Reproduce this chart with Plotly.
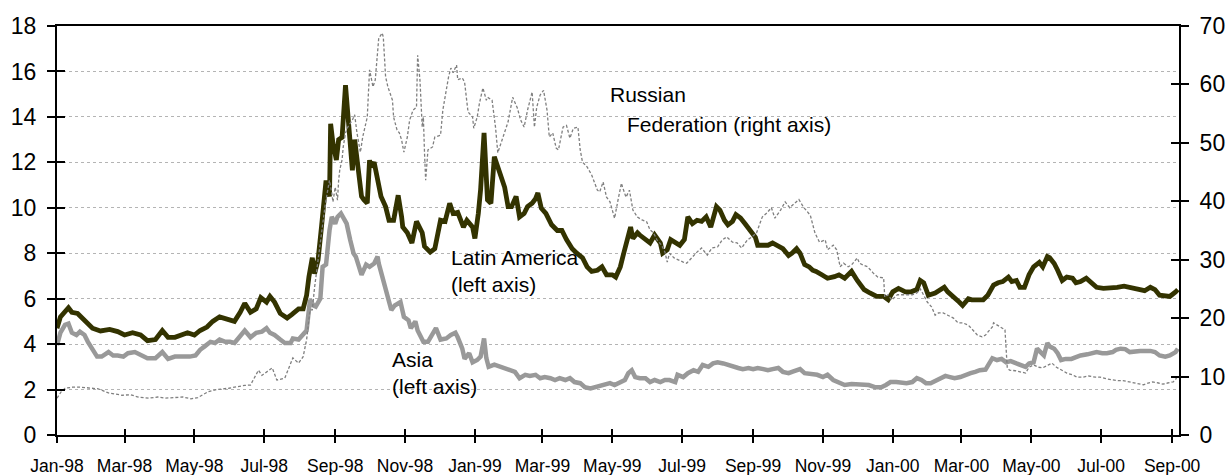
import pandas as pd
import plotly.graph_objects as go

start = pd.Timestamp("1998-01-01")

# Days since 1 Jan 1998 and spread values (Latin America, left axis)
latam_days = [0, 3, 10, 13, 18, 24, 31, 38, 46, 53, 59, 66, 73, 79, 86, 92, 97, 103, 109, 114,
              120, 125, 131, 136, 142, 149, 155, 160, 164, 169, 174, 178, 183, 186, 190, 195, 201, 205, 211, 215,
              218, 220, 223, 225, 228, 231, 233, 235, 238, 239, 241, 244, 246, 249, 252, 253, 256, 258, 260, 263,
              266, 268, 271, 273, 274, 277, 280, 283, 287, 290, 294, 298, 301, 302, 306, 310, 314, 319, 321, 326,
              330, 335, 339, 343, 346, 350, 355, 358, 363, 365, 368, 370, 373, 375, 376, 379, 382, 384, 389, 391,
              394, 397, 401, 404, 408, 411, 415, 418, 420, 423, 427, 432, 437, 441, 445, 450, 454, 459, 463, 467,
              472, 476, 480, 485, 488, 492, 495, 498, 501, 503, 507, 509, 514, 518, 522, 527, 529, 533, 536, 540,
              544, 548, 551, 555, 559, 563, 567, 571, 576, 579, 583, 586, 590, 593, 597, 601, 605, 610, 612, 617,
              621, 625, 630, 634, 639, 642, 646, 649, 653, 657, 660, 663, 668, 673, 679, 683, 688, 694, 699, 705,
              710, 716, 722, 726, 730, 735, 741, 746, 751, 754, 757, 761, 767, 772, 775, 778, 783, 788, 791, 796,
              799, 804, 809, 813, 818, 822, 826, 831, 834, 838, 841, 845, 849, 853, 858, 861, 865, 867, 871, 874,
              878, 882, 887, 890, 894, 899, 903, 908, 914, 920, 926, 932, 938, 944, 950, 955, 959, 963, 968, 972,
              977, 979]
latam_vals = [4.7, 5.2, 5.6, 5.4, 5.35, 5.05, 4.7, 4.58, 4.65, 4.55, 4.4, 4.5, 4.4, 4.15, 4.2, 4.6, 4.3, 4.3, 4.4, 4.5,
              4.4, 4.6, 4.75, 5.0, 5.2, 5.1, 5.0, 5.4, 5.8, 5.4, 5.55, 6.05, 5.85, 6.1, 5.85, 5.35, 5.15, 5.3, 5.55, 5.55,
              6.15, 6.95, 7.8, 7.1, 7.7, 9.15, 10.5, 11.2, 10.5, 13.7, 12.85, 12.1, 13.0, 13.1, 15.4, 14.75, 12.85, 11.65, 13.0, 11.5,
              10.5, 10.35, 10.2, 12.1, 11.8, 12.0, 11.3, 10.5, 10.05, 9.45, 9.45, 10.55, 9.6, 9.15, 8.9, 8.45, 9.4, 8.9, 8.3, 8.05,
              8.2, 9.45, 9.4, 10.2, 9.75, 9.8, 9.15, 9.45, 9.15, 8.65, 9.75, 10.8, 13.3, 11.5, 10.35, 10.2, 12.25, 11.95, 11.2, 10.9,
              10.05, 10.05, 10.5, 9.6, 9.75, 10.05, 10.2, 10.4, 10.65, 9.98, 9.75, 9.25, 9.0, 9.0, 8.6, 8.2, 8.0, 7.8, 7.4, 7.2,
              7.25, 7.4, 7.05, 7.05, 6.95, 7.4, 8.0, 8.6, 9.15, 8.65, 8.9, 8.8, 8.6, 8.45, 8.8, 8.45, 8.0, 8.15, 8.6, 8.45,
              8.35, 8.6, 9.6, 9.3, 9.45, 9.4, 9.6, 9.15, 10.05, 9.9, 9.45, 9.25, 9.4, 9.7, 9.55, 9.3, 9.0, 8.7, 8.35, 8.35,
              8.35, 8.45, 8.3, 8.2, 7.9, 8.0, 8.2, 8.0, 7.5, 7.4, 7.25, 7.2, 7.05, 6.9, 6.97, 7.05, 6.9, 7.2, 6.8, 6.4,
              6.25, 6.1, 6.1, 5.95, 6.3, 6.45, 6.3, 6.3, 6.4, 6.8, 6.7, 6.15, 6.25, 6.4, 6.5, 6.3, 6.1, 5.85, 5.7, 6.0,
              5.95, 5.95, 5.95, 6.15, 6.6, 6.7, 6.75, 6.95, 6.75, 6.8, 6.5, 6.5, 7.05, 7.4, 7.6, 7.4, 7.85, 7.8, 7.55, 7.25,
              6.8, 6.95, 6.9, 6.7, 6.75, 6.9, 6.75, 6.5, 6.45, 6.45, 6.5, 6.55, 6.5, 6.4, 6.35, 6.5, 6.4, 6.15, 6.1, 6.1,
              6.3, 6.4]

# Asia, left axis
asia_days = [0, 3, 7, 10, 13, 17, 20, 24, 27, 31, 35, 39, 45, 49, 53, 58, 62, 68, 74, 79,
             86, 92, 97, 103, 110, 116, 121, 125, 129, 134, 138, 142, 147, 151, 155, 160, 164, 169, 174, 179,
             183, 186, 190, 195, 199, 204, 206, 211, 215, 218, 221, 224, 226, 230, 232, 235, 238, 240, 243, 245,
             248, 251, 253, 256, 259, 261, 264, 266, 270, 273, 277, 280, 281, 285, 288, 292, 295, 300, 303, 307,
             309, 313, 315, 320, 324, 328, 331, 335, 340, 344, 348, 350, 354, 356, 360, 363, 367, 370, 373, 375,
             377, 382, 387, 391, 396, 400, 404, 409, 413, 418, 422, 426, 431, 435, 439, 444, 448, 452, 457, 461,
             466, 470, 474, 479, 483, 487, 492, 496, 499, 502, 505, 509, 514, 518, 522, 527, 531, 535, 540, 542,
             547, 551, 556, 560, 564, 569, 573, 577, 582, 586, 590, 595, 599, 604, 608, 612, 617, 621, 625, 630,
             634, 639, 642, 646, 649, 653, 659, 664, 669, 673, 678, 683, 688, 694, 699, 704, 709, 715, 720, 724,
             728, 733, 738, 742, 747, 751, 755, 759, 763, 767, 771, 776, 780, 784, 789, 793, 798, 802, 806, 811,
             813, 817, 821, 825, 829, 833, 838, 842, 846, 849, 853, 856, 860, 862, 865, 867, 871, 874, 877, 881,
             886, 890, 894, 900, 904, 908, 913, 917, 922, 925, 929, 933, 937, 942, 946, 950, 955, 959, 963, 968,
             972, 977, 979]
asia_vals = [3.96, 4.5, 4.85, 4.9, 4.5, 4.4, 4.55, 4.4, 4.1, 3.8, 3.45, 3.45, 3.65, 3.5, 3.5, 3.45, 3.6, 3.65, 3.5, 3.38,
             3.38, 3.65, 3.35, 3.45, 3.45, 3.45, 3.5, 3.75, 3.9, 4.1, 4.05, 4.2, 4.1, 4.1, 4.05, 4.4, 4.6, 4.3, 4.5, 4.55,
             4.7, 4.5, 4.4, 4.2, 4.05, 4.05, 4.25, 4.2, 4.4, 4.6, 5.95, 5.7, 5.65, 6.0, 7.4, 7.5, 9.0, 9.6, 9.3, 9.6,
             9.75, 9.45, 9.3, 8.6, 8.0, 7.85, 7.25, 7.05, 7.5, 7.4, 7.55, 7.85, 7.55, 6.8, 6.4, 5.5, 5.7, 5.85, 5.2, 5.05,
             4.7, 5.0, 4.6, 4.1, 4.1, 4.4, 4.7, 4.2, 4.25, 4.4, 4.5, 4.3, 3.8, 3.35, 3.6, 3.2, 3.3, 3.45, 4.25, 3.38,
             3.0, 3.1, 3.0, 2.95, 2.85, 2.78, 2.5, 2.65, 2.6, 2.65, 2.5, 2.55, 2.5, 2.42, 2.5, 2.42, 2.5, 2.33, 2.28, 2.1,
             2.05, 2.1, 2.15, 2.2, 2.28, 2.2, 2.33, 2.42, 2.72, 2.85, 2.55, 2.5, 2.5, 2.33, 2.42, 2.33, 2.42, 2.42, 2.33, 2.65,
             2.55, 2.72, 2.85, 2.78, 3.08, 3.0, 3.15, 3.2, 3.15, 3.08, 3.0, 2.95, 2.9, 2.95, 2.9, 2.95, 2.9, 2.85, 2.9, 2.95,
             2.78, 2.72, 2.78, 2.85, 2.9, 2.72, 2.68, 2.65, 2.55, 2.65, 2.42, 2.33, 2.2, 2.24, 2.24, 2.24, 2.2, 2.1, 2.1, 2.2,
             2.33, 2.33, 2.28, 2.28, 2.33, 2.5, 2.42, 2.28, 2.28, 2.38, 2.45, 2.6, 2.55, 2.5, 2.55, 2.65, 2.72, 2.78, 2.85, 2.88,
             3.08, 3.38, 3.3, 3.35, 3.2, 3.25, 3.15, 3.05, 3.0, 3.15, 3.2, 3.8, 3.6, 3.5, 4.05, 3.9, 3.8, 3.6, 3.3, 3.35,
             3.35, 3.45, 3.5, 3.55, 3.6, 3.65, 3.6, 3.6, 3.65, 3.75, 3.8, 3.78, 3.65, 3.7, 3.7, 3.7, 3.7, 3.65, 3.5, 3.45,
             3.5, 3.65, 3.8]

# Russian Federation, right axis
russia_days = [0, 4, 7, 14, 20, 28, 36, 45, 57, 64, 71, 80, 88, 94, 100, 110, 117, 123, 132, 140,
               150, 158, 164, 169, 176, 179, 182, 188, 192, 196, 199, 206, 211, 215, 218, 221, 223, 225, 228, 231,
               234, 236, 238, 240, 241, 243, 245, 246,
               247, 249, 250, 252, 254, 258, 260, 262, 265, 267, 271, 273, 276, 278, 280, 281, 284, 285, 287, 289,
               293, 294, 297, 299, 301, 303, 306, 308, 311, 314, 315, 317, 319, 320, 321, 322, 324, 328, 330, 335,
               337, 342, 344, 346, 349, 350, 354, 356, 359, 363, 364, 367, 369, 372, 375, 376, 380, 383, 385, 389,
               391, 394, 398, 402, 405, 408, 411, 415, 417, 419, 422, 425, 428, 430, 433, 436, 438, 442, 445, 448,
               451, 455, 457, 459, 463, 467, 472, 474, 477, 480, 483, 487, 490, 493, 494, 497, 500, 503, 507, 511,
               515, 518, 521, 524, 528, 531, 533, 535, 539, 542, 547, 550, 555, 559, 563, 568, 572, 577, 581, 585,
               590, 594, 598, 603, 607, 611, 616, 620, 624, 627, 632, 636, 640, 645, 648, 652, 658, 662, 666, 671,
               673, 678, 681, 684, 687, 691, 694, 699, 701, 704, 708, 713, 717, 722, 723, 726, 729, 734, 738, 742,
               747, 751, 754, 756, 760, 764, 767, 770, 774, 778, 783, 787, 791, 796, 800, 804, 808, 811, 813, 817,
               818, 822, 825, 828, 830, 832, 837, 841, 846, 849, 853, 857, 861, 866, 869, 873, 878, 882, 887, 891,
               896, 901, 907, 911, 917, 922, 927, 931, 936, 940, 944, 949, 953, 957, 962, 966, 970, 975, 978]
russia_vals = [6.3, 7.5, 8.0, 8.2, 8.2, 8.0, 7.9, 7.2, 6.8, 6.9, 6.5, 6.3, 6.5, 6.3, 6.4, 6.5, 6.2, 6.4, 7.4, 7.8,
               8.0, 8.3, 8.5, 8.55, 11.1, 10.2, 10.6, 11.5, 9.4, 9.6, 9.75, 13.2, 12.3, 13.4, 16.3, 21.4, 21.4, 25.3, 30.0, 33.9,
               39.0, 41.4, 43.6, 41.4, 39.9, 42.4, 40.2, 43.6,
               45.4, 47.1, 49.3, 51.7, 52.7, 53.9, 54.8, 51.7, 48.4, 51.0, 54.4, 62.5, 59.6, 60.8, 65.9, 67.9, 68.8, 68.1, 61.3, 59.6,
               57.3, 54.4, 52.2, 51.7, 50.5, 48.4, 51.0, 53.9, 55.6, 56.1, 65.0, 60.8, 52.7, 54.4, 48.3, 43.6, 48.8, 49.3, 51.0, 51.3,
               55.6, 61.3, 62.8, 62.0, 63.3, 60.8, 61.1, 60.4, 55.3, 54.4, 52.5, 54.4, 56.8, 59.4, 57.3, 57.8, 57.3, 52.7, 48.3, 50.5,
               51.7, 53.6, 57.8, 56.0, 53.9, 52.7, 55.6, 58.7, 52.7, 56.1, 58.2, 59.0, 55.6, 51.0, 51.7, 49.1, 48.8, 52.7, 53.0, 50.8,
               52.5, 52.7, 48.8, 46.7, 45.9, 44.5, 41.9, 41.6, 43.3, 40.7, 39.9, 37.1, 40.2, 43.1, 42.4, 40.7, 41.9, 38.5, 37.3, 36.8,
               36.5, 35.1, 34.6, 33.4, 32.5, 31.3, 29.6, 31.1, 30.3, 30.0, 29.6, 29.4, 30.5, 31.3, 32.0, 30.8, 32.0, 32.2, 33.4, 33.9,
               33.0, 32.9, 32.0, 33.4, 33.9, 34.6, 37.3, 38.0, 38.9, 37.1, 38.5, 39.9, 38.9, 39.7, 40.3, 39.0, 37.6, 34.6, 33.0, 33.4,
               31.7, 32.5, 31.7, 28.8, 29.4, 28.8, 29.1, 30.3, 29.4, 29.1, 28.8, 27.7, 27.0, 26.9, 23.6, 24.0, 23.1, 24.0, 24.0, 24.0,
               24.0, 24.3, 25.0, 24.3, 22.8, 21.9, 20.5, 20.9, 20.9, 20.5, 20.0, 19.2, 19.2, 18.8, 18.0, 17.1, 16.8, 17.1, 17.6, 18.5,
               19.2, 18.7, 18.3, 18.0, 11.5, 11.1, 11.0, 10.8, 10.6, 11.6, 12.0, 11.6, 11.5, 12.0, 12.3, 11.6, 11.1, 10.6, 10.3, 9.9,
               9.9, 10.1, 9.9, 9.9, 9.6, 9.4, 9.3, 9.3, 9.1, 8.9, 8.7, 8.6, 8.9, 9.1, 8.9, 8.7, 8.9, 9.1, 9.75]

x_range = ["1998-01-01", "2000-09-07"]
left_range = [0, 18]
right_range = [0, 70]


def to_dates(days):
    return [start + pd.Timedelta(days=d) for d in days]


FONT = "Liberation Sans, Arial, sans-serif"

fig = go.Figure()
fig.add_trace(go.Scatter(x=to_dates(russia_days), y=russia_vals, mode="lines", yaxis="y2",
                         line=dict(color="#7f7f7f", width=1.3, dash="3px,2px"),
                         name="Russian Federation", showlegend=False, hoverinfo="skip"))
fig.add_trace(go.Scatter(x=to_dates(asia_days), y=asia_vals, mode="lines",
                         line=dict(color="#999999", width=4.5),
                         name="Asia", showlegend=False, hoverinfo="skip"))
fig.add_trace(go.Scatter(x=to_dates(latam_days), y=latam_vals, mode="lines",
                         line=dict(color="#333300", width=4.8),
                         name="Latin America", showlegend=False, hoverinfo="skip"))
# helper traces so overlay axes (inner half of crossing ticks) get drawn
fig.add_trace(go.Scatter(x=[], y=[], xaxis="x2", yaxis="y3", showlegend=False, hoverinfo="skip"))
fig.add_trace(go.Scatter(x=[], y=[], xaxis="x2", yaxis="y4", showlegend=False, hoverinfo="skip"))

tickfont_x = dict(family=FONT, size=17.5, color="#000000")
tickfont_y = dict(family=FONT, size=23, color="#000000")

fig.update_layout(
    width=1231, height=475,
    margin=dict(l=57, r=52, t=26, b=40, autoexpand=False),
    plot_bgcolor="white", paper_bgcolor="white",
    xaxis=dict(type="date", range=x_range, tick0="1998-01-01", dtick="M2", tickformat="%b-%y",
               ticks="outside", ticklen=6, tickwidth=1.5, tickcolor="black",
               showline=True, linecolor="black", linewidth=2, mirror=True, automargin=False,
               showgrid=False, zeroline=False, tickfont=tickfont_x, ticklabelstandoff=8),
    xaxis2=dict(type="date", range=x_range, tick0="1998-01-01", dtick="M2", overlaying="x",
                anchor="y", side="bottom", ticks="inside", ticklen=6, tickwidth=1.5, tickcolor="black",
                showticklabels=False, showline=False, showgrid=False, zeroline=False, automargin=False),
    yaxis=dict(range=left_range, dtick=2, ticks="outside", ticklen=8, tickwidth=1.5, tickcolor="black",
               showline=True, linecolor="black", linewidth=2, automargin=False,
               showgrid=True, gridcolor="#b4b4b4", griddash="dot", gridwidth=1,
               zeroline=False, tickfont=tickfont_y, ticklabelstandoff=6),
    yaxis2=dict(range=right_range, dtick=10, overlaying="y", side="right", anchor="x",
                ticks="outside", ticklen=8, tickwidth=1.5, tickcolor="black",
                showline=True, linecolor="black", linewidth=2, automargin=False,
                showgrid=False, zeroline=False, tickfont=tickfont_y, ticklabelstandoff=6),
    yaxis3=dict(range=left_range, dtick=2, overlaying="y", side="left", anchor="x2",
                ticks="inside", ticklen=8, tickwidth=1.5, tickcolor="black", automargin=False,
                showticklabels=False, showline=False, showgrid=False, zeroline=False),
    yaxis4=dict(range=right_range, dtick=10, overlaying="y", side="right", anchor="x2",
                ticks="inside", ticklen=8, tickwidth=1.5, tickcolor="black", automargin=False,
                showticklabels=False, showline=False, showgrid=False, zeroline=False),
)

ann_font = dict(family=FONT, size=21, color="#000000")
labels = [
    ("Russian", 608, 95),
    ("Federation (right axis)", 625, 124),
    ("Latin America", 449, 257),
    ("(left axis)", 449, 284),
    ("Asia", 390, 359),
    ("(left axis)", 390, 386),
]
for text, px, py in labels:
    fig.add_annotation(text=text, xref="paper", yref="paper",
                       x=(px - 57) / 1122, y=(435 - py) / 409,
                       xanchor="left", yanchor="middle", showarrow=False, font=ann_font)

fig.write_html("out.html", config={"displayModeBar": False},
               post_script="document.body.style.margin='0';document.body.style.padding='0';"
                           "document.documentElement.style.overflow='hidden';")
